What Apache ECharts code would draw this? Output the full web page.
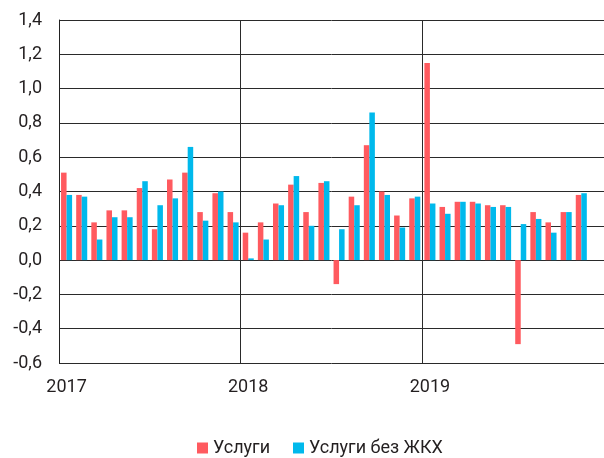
<!DOCTYPE html>
<html>
<head>
<meta charset="utf-8">
<script src="https://cdn.jsdelivr.net/npm/echarts@6/dist/echarts.min.js"></script>
<style>
  html, body { margin: 0; padding: 0; background: #fff; }
  #chart { width: 604px; height: 458px; }
</style>
</head>
<body>
<div id="chart"></div>
<script>
// months Jan 2017 .. Dec 2019
const months = [
  '2017-01', '2017-02', '2017-03', '2017-04', '2017-05', '2017-06',
  '2017-07', '2017-08', '2017-09', '2017-10', '2017-11', '2017-12',
  '2018-01', '2018-02', '2018-03', '2018-04', '2018-05', '2018-06',
  '2018-07', '2018-08', '2018-09', '2018-10', '2018-11', '2018-12',
  '2019-01', '2019-02', '2019-03', '2019-04', '2019-05', '2019-06',
  '2019-07', '2019-08', '2019-09', '2019-10', '2019-11', '2019-12'
]
const services = [
  0.51, 0.38, 0.22, 0.29, 0.29, 0.42, 0.18, 0.47, 0.51, 0.28, 0.39, 0.28,
  0.16, 0.22, 0.33, 0.44, 0.28, 0.45, -0.14, 0.37, 0.67, 0.40, 0.26, 0.36,
  1.15, 0.31, 0.34, 0.34, 0.32, 0.32, -0.49, 0.28, 0.22, 0.28, 0.38, null
]
const servicesNoHousing = [
  0.38, 0.37, 0.12, 0.25, 0.25, 0.46, 0.32, 0.36, 0.66, 0.23, 0.40, 0.22,
  0.01, 0.12, 0.32, 0.49, 0.20, 0.46, 0.18, 0.32, 0.86, 0.38, 0.19, 0.37,
  0.33, 0.27, 0.34, 0.33, 0.31, 0.31, 0.21, 0.24, 0.16, 0.28, 0.39, null
]
const seriesNames = ['Услуги', 'Услуги без ЖКХ']

const font = 'Roboto'
const chart = echarts.init(document.getElementById('chart'))
chart.setOption({
  animation: false,
  textStyle: { fontFamily: font },
  grid: { left: 59, top: 20, width: 547, bottom: 95 },
  legend: {
    data: seriesNames,
    left: 192,
    top: 434,
    icon: 'rect',
    itemWidth: 11,
    itemHeight: 11,
    itemGap: 23,
    textStyle: { fontFamily: font, fontSize: 18, color: '#231f20' }
  },
  xAxis: {
    type: 'category',
    data: months,
    axisLine: { show: false },
    axisTick: { show: false },
    axisLabel: {
      interval: (i) => i % 12 === 0,
      formatter: (v) => v.substring(0, 4),
      fontSize: 18,
      color: '#231f20',
      margin: 15
    },
    splitLine: {
      show: true,
      interval: (i) => i % 12 === 0,
      lineStyle: { color: '#2a2a2a', width: 1 }
    }
  },
  yAxis: {
    type: 'value',
    min: -0.6,
    max: 1.4,
    interval: 0.2,
    axisLine: { show: true, lineStyle: { color: '#222', width: 1 } },
    axisTick: { show: false },
    axisLabel: {
      formatter: (v) => v.toFixed(1).replace('.', ','),
      fontSize: 18,
      color: '#231f20',
      margin: 17
    },
    splitLine: { lineStyle: { color: '#2a2a2a', width: 1 } }
  },
  series: [
    {
      name: seriesNames[0],
      type: 'bar',
      data: services,
      barGap: '0%',
      barCategoryGap: '27%',
      itemStyle: { color: '#ff5a5f' }
    },
    {
      name: seriesNames[1],
      type: 'bar',
      data: servicesNoHousing,
      itemStyle: { color: '#00b9ec' }
    }
  ]
})
</script>
</body>
</html>
